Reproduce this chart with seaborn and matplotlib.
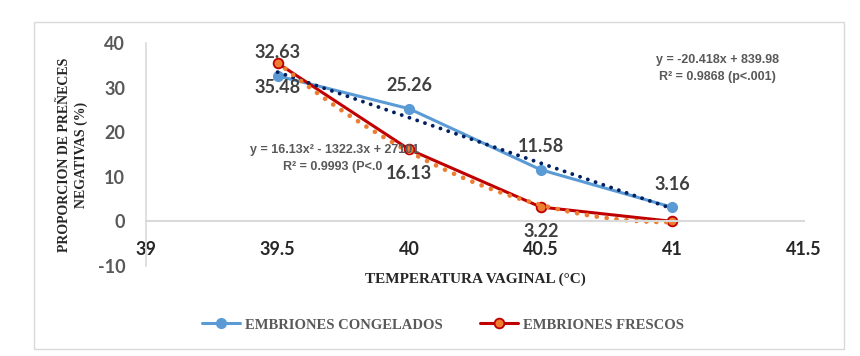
import matplotlib
matplotlib.use('Agg')
import matplotlib.pyplot as plt
from matplotlib.patches import Rectangle
from matplotlib.ticker import FormatStrFormatter
import seaborn as sns
import pandas as pd

# Datos
temperatura = [39.5, 40.0, 40.5, 41.0]
congelados = [32.63, 25.26, 11.58, 3.16]
frescos = [35.48, 16.13, 3.22, 0.0]

x_ticks = [39, 39.5, 40, 40.5, 41, 41.5]
y_ticks = [-10, 0, 10, 20, 30, 40]

eq_lineal = ['y = -20.418x + 839.98', 'R² = 0.9868 (p<.001)']
eq_poli = ['y = 16.13x² - 1322.3x + 27101', 'R² = 0.9993 (P<.0']

AZUL = '#5B9BD5'
ROJO = '#C00000'
NARANJA = '#ED7D31'
MARINO = '#002060'
GRIS = '#595959'
OSCURO = '#404040'

sns.set_theme(style='white')
plt.rcParams['font.family'] = ['Lato', 'DejaVu Sans']
plt.rcParams['axes.unicode_minus'] = False

df = pd.DataFrame({'Temp': temperatura,
                   'Congelados': congelados,
                   'Frescos': frescos})

fig = plt.figure(figsize=(8.6, 3.56), dpi=100)
ax = fig.add_axes([146/860, 1 - 266/356, (804 - 146)/860, (266 - 43)/356])

# Series (líneas con marcadores)
sns.lineplot(data=df, x='Temp', y='Congelados', color=AZUL, linewidth=2.2,
             marker='o', markersize=7, mfc=AZUL, mec=AZUL, mew=1,
             label='EMBRIONES CONGELADOS', ax=ax)
sns.lineplot(data=df, x='Temp', y='Frescos', color=ROJO, linewidth=2.2,
             marker='o', markersize=7, mfc=NARANJA, mec=ROJO, mew=1.3,
             label='EMBRIONES FRESCOS', ax=ax)

# Líneas de tendencia (lineal y polinómica de orden 2)
sns.regplot(data=df, x='Temp', y='Congelados', order=1, ci=None, scatter=False,
            truncate=True, ax=ax,
            line_kws=dict(color=MARINO, linewidth=2.8, linestyle=(0, (0.01, 2.1)),
                          dash_capstyle='round'))
sns.regplot(data=df, x='Temp', y='Frescos', order=2, ci=None, scatter=False,
            truncate=True, ax=ax,
            line_kws=dict(color=NARANJA, linewidth=3.4, linestyle=(0, (0.01, 2.1)),
                          dash_capstyle='round'))

# Etiquetas de datos
for x, y in zip(temperatura, congelados):
    ax.annotate(f'{y:.2f}', (x, y), xytext=(0, 16.5), textcoords='offset points',
                ha='center', va='center', fontsize=13, fontweight='bold', color=OSCURO)
for x, y in zip(temperatura, frescos):
    if y > 0:
        ax.annotate(f'{y:.2f}', (x, y), xytext=(0, -17.5), textcoords='offset points',
                    ha='center', va='center', fontsize=13, fontweight='bold', color=OSCURO)

# Ejes
ax.set_xlim(39, 41.5)
ax.set_ylim(-10, 40)
ax.set_xticks(x_ticks)
ax.set_yticks(y_ticks)
ax.xaxis.set_major_formatter(FormatStrFormatter('%g'))
ax.set_xlabel('')
ax.set_ylabel('')
for s in ['top', 'right']:
    ax.spines[s].set_visible(False)
ax.spines['bottom'].set_position(('data', 0))
ax.spines['bottom'].set_color('#D9D9D9')
ax.spines['bottom'].set_linewidth(1.5)
ax.spines['left'].set_color('#D9D9D9')
ax.spines['left'].set_linewidth(1.2)
ax.tick_params(axis='x', length=0, pad=14, labelsize=13, labelcolor='#262626')
ax.tick_params(axis='y', length=0, pad=15, labelsize=13, labelcolor=GRIS)
plt.setp(ax.get_xticklabels() + ax.get_yticklabels(), fontweight='bold')
ax.grid(False)

# Ecuaciones
eq_font = dict(family=['Liberation Sans', 'DejaVu Sans'], fontsize=9,
               fontweight='bold', color=GRIS)
fig.text(717/860, 1 - 60/356, eq_lineal[0], ha='center', va='center', **eq_font)
fig.text(717/860, 1 - 77/356, eq_lineal[1], ha='center', va='center', **eq_font)
fig.text(335/860, 1 - 150/356, eq_poli[0], ha='center', va='center', **eq_font)
fig.text(283/860, 1 - 167/356, eq_poli[1], ha='left', va='center', **eq_font)

# Títulos de ejes
serif = ['Liberation Serif', 'DejaVu Serif']
fig.text(475/860, 1 - 279/356, 'TEMPERATURA VAGINAL (°C)', ha='center', va='center',
         family=serif, fontsize=11, fontweight='bold', color='#262626')
fig.text(73/860, 1 - 155/356, 'PROPORCION DE PREÑECES\nNEGATIVAS (%)', rotation=90,
         ha='center', va='center', multialignment='center', linespacing=1.25,
         family=serif, fontsize=10, fontweight='bold', color='#262626')

# Leyenda abajo
handles, labels = ax.get_legend_handles_labels()
if ax.get_legend() is not None:
    ax.get_legend().remove()
leg = fig.legend(handles, labels, loc='center', bbox_to_anchor=(443/860, 1 - 325/356),
                 ncol=2, frameon=False, handlelength=2.6, columnspacing=2.6,
                 handletextpad=0.3, fontsize=10.5)
for t in leg.get_texts():
    t.set_fontfamily(serif)
    t.set_fontweight('bold')
    t.set_color(GRIS)

# Marco exterior
fig.add_artist(Rectangle((34/860, 1 - 349/356), 810/860, 327/356,
                         transform=fig.transFigure, fill=False,
                         edgecolor='#D9D9D9', linewidth=1))

fig.savefig('out.png', dpi=100)
